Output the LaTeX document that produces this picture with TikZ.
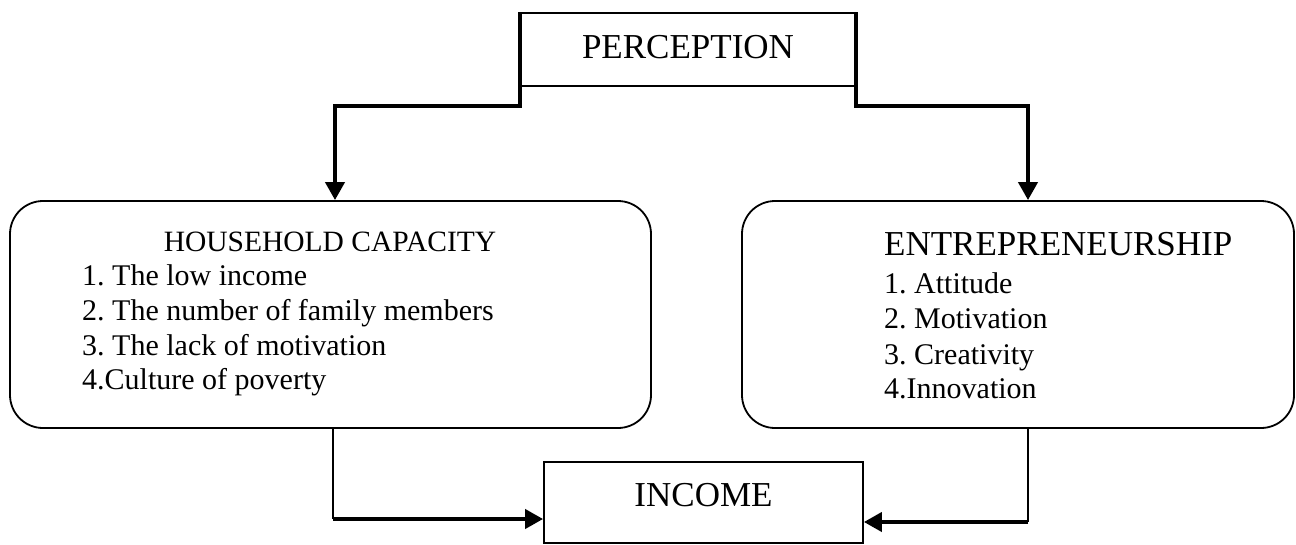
\documentclass[tikz,border=0pt]{standalone}
\usepackage{fontspec}
\setmainfont{Liberation Serif}
\usetikzlibrary{arrows.meta,calc}
\frenchspacing
\tikzset{
  boxline/.style={draw=black, line width=1.8pt, inner sep=0pt},
  roundbox/.style={boxline, rounded corners=33pt},
  bigtxt/.style={font=\fontsize{35}{40}\selectfont, inner sep=0pt},
  itemtxt/.style={font=\fontsize{30}{34}\selectfont, inner sep=0pt, anchor=base west},
  thickconn/.style={line width=4pt, -{Triangle[width=19pt,length=18pt]}},
  thinconn/.style={line width=2pt},
}
\begin{document}
\begin{tikzpicture}[x=1pt,y=-1pt]
\useasboundingbox (0,0) rectangle (1296,544);
% boxes
\node[boxline, minimum width=334pt, minimum height=73pt] (P) at (688,49.5) {};
\node[bigtxt] (Pt) at (688,47) {PERCEPTION};
\node[roundbox, minimum width=641pt, minimum height=227pt] (H) at (330.5,314.5) {};
\node[roundbox, minimum width=552pt, minimum height=227pt] (E) at (1018,314.5) {};
\node[boxline, minimum width=319pt, minimum height=81pt] (I) at (703.5,502.5) {};
\node[bigtxt] (It) at (703.5,495) {INCOME};
% household text
\node[font=\fontsize{29.5}{34}\selectfont, inner sep=0pt, anchor=base] (Ht) at (330,251) {HOUSEHOLD CAPACITY};
\node[itemtxt] (H1) at (82,285) {1. The low income};
\node[itemtxt] (H2) at (82,320) {2. The number of family members};
\node[itemtxt] (H3) at (82,355) {3. The lack of motivation};
\node[itemtxt] (H4) at (82,389) {4.Culture of poverty};
% entrepreneurship text
\node[bigtxt, anchor=base west] (Et) at (884,255) {ENTREPRENEURSHIP};
\node[itemtxt] (E1) at (884,293) {1. Attitude};
\node[itemtxt] (E2) at (884,328) {2. Motivation};
\node[itemtxt] (E3) at (884,364) {3. Creativity};
\node[itemtxt] (E4) at (884,398) {4.Innovation};
% connectors from perception
\draw[thickconn] (P.north west) -- ++(0,94) -| ([xshift=4.5pt]H.north);
\draw[thickconn] (P.north east) -- ++(0,94) -| ([xshift=10pt]E.north);
% connectors to income
\coordinate (hl) at ([xshift=2.5pt]H.south |- 0,519);
\coordinate (er) at ([xshift=10pt]E.south |- 0,522);
\draw[thinconn] ([xshift=2.5pt]H.south) -- (hl);
\draw[thickconn] (hl) -- (I.west |- hl);
\draw[thinconn] ([xshift=10pt]E.south) -- (er);
\draw[thickconn] (er) -- (I.east |- er);
\end{tikzpicture}
\end{document}
